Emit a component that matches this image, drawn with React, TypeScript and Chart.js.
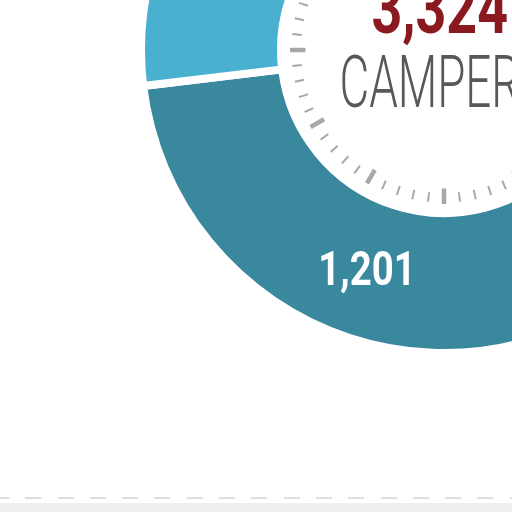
import React, { useEffect, useRef } from 'react';
import Chart from 'chart.js/auto';

// values
const segmentLabels = ['Campers', 'Other campers'];
const segmentValues = [1201, 2123];
const segmentColors = ['#39889e', '#4ab0d0'];
const segmentTexts = ['1,201', ''];
const totalText = '3,324';
const unitText = 'CAMPERS';
const dialTicks = 60;
const dialMajorEvery = 5;

const drawCondensed = (
  ctx: CanvasRenderingContext2D,
  text: string,
  x: number,
  y: number,
  font: string,
  color: string,
  width: number,
  align: 'center' | 'left',
  baseline: CanvasTextBaseline
) => {
  ctx.save();
  ctx.font = font;
  ctx.fillStyle = color;
  ctx.textBaseline = baseline;
  ctx.textAlign = 'left';
  const m = ctx.measureText(text);
  const glyphW = m.actualBoundingBoxLeft + m.actualBoundingBoxRight;
  const sx = width / glyphW;
  const startX = align === 'center' ? x - width / 2 : x;
  ctx.translate(startX, y);
  ctx.scale(sx, 1);
  ctx.fillText(text, m.actualBoundingBoxLeft, 0);
  ctx.restore();
};

const dialPlugin = {
  id: 'dial',
  afterDatasetsDraw(chart: any) {
    const ctx = chart.ctx as CanvasRenderingContext2D;
    const arcs = chart.getDatasetMeta(0).data;
    if (!arcs.length) return;
    const { x, y, innerRadius } = arcs[0].getProps(['x', 'y', 'innerRadius'], true);

    // clock style ticks inside the ring
    ctx.save();
    ctx.strokeStyle = '#a8a8ab';
    ctx.lineCap = 'butt';
    for (let i = 0; i < dialTicks; i++) {
      const a = (i / dialTicks) * Math.PI * 2;
      const major = i % dialMajorEvery === 0;
      const r1 = innerRadius - (major ? 24.5 : 20);
      const r2 = innerRadius - (major ? 9 : 10.5);
      ctx.lineWidth = major ? 4.5 : 2;
      ctx.beginPath();
      ctx.moveTo(x + Math.cos(a) * r1, y + Math.sin(a) * r1);
      ctx.lineTo(x + Math.cos(a) * r2, y + Math.sin(a) * r2);
      ctx.stroke();
    }
    ctx.restore();

    // centre text
    drawCondensed(ctx, totalText, x - 4, y - 17, '700 72px Roboto', '#8a1a20', 134, 'center', 'alphabetic');
    drawCondensed(ctx, unitText, x - 102, y + 57, '300 73px Roboto', '#58585a', 204, 'left', 'alphabetic');

    // segment labels
    arcs.forEach((arc: any, i: number) => {
      if (!segmentTexts[i]) return;
      const p = arc.tooltipPosition();
      drawCondensed(ctx, segmentTexts[i], p.x - 6, p.y + 14, '700 49px Roboto', '#ffffff', 88, 'center', 'alphabetic');
    });
  },
};

const CampersDonut: React.FC = () => {
  const chartRef = useRef<HTMLCanvasElement>(null);

  useEffect(() => {
    if (!chartRef.current) return;
    const context = chartRef.current.getContext('2d');
    if (!context) return;

    const donut = new Chart(context, {
      type: 'doughnut',
      data: {
        labels: segmentLabels,
        datasets: [
          {
            data: segmentValues,
            backgroundColor: segmentColors,
            borderColor: '#ffffff',
            borderWidth: 8,
          },
        ],
      },
      options: {
        animation: false,
        responsive: true,
        maintainAspectRatio: false,
        events: [],
        rotation: 133.1,
        radius: 303,
        cutout: '53.8%',
        plugins: {
          legend: { display: false },
          tooltip: { enabled: false },
        },
      },
      plugins: [dialPlugin],
    });

    return () => {
      donut.destroy();
    };
  }, []);

  return (
    <div style={{ position: 'absolute', left: 134, top: -260, width: 620, height: 620 }}>
      <canvas ref={chartRef} />
    </div>
  );
};

export default function App() {
  return (
    <div
      style={{
        position: 'fixed',
        left: 0,
        top: 0,
        width: 512,
        height: 512,
        overflow: 'hidden',
        background: '#ffffff',
      }}
    >
      <CampersDonut />
      <div
        style={{
          position: 'absolute',
          left: -7.3,
          top: 497,
          width: 540,
          height: 2,
          background: 'repeating-linear-gradient(to right, #dedee0 0px, #dedee0 16px, transparent 16px, transparent 32.3px)',
        }}
      />
      <div style={{ position: 'absolute', left: 0, top: 503, width: 512, height: 9, background: '#eeeef0' }} />
    </div>
  );
}
